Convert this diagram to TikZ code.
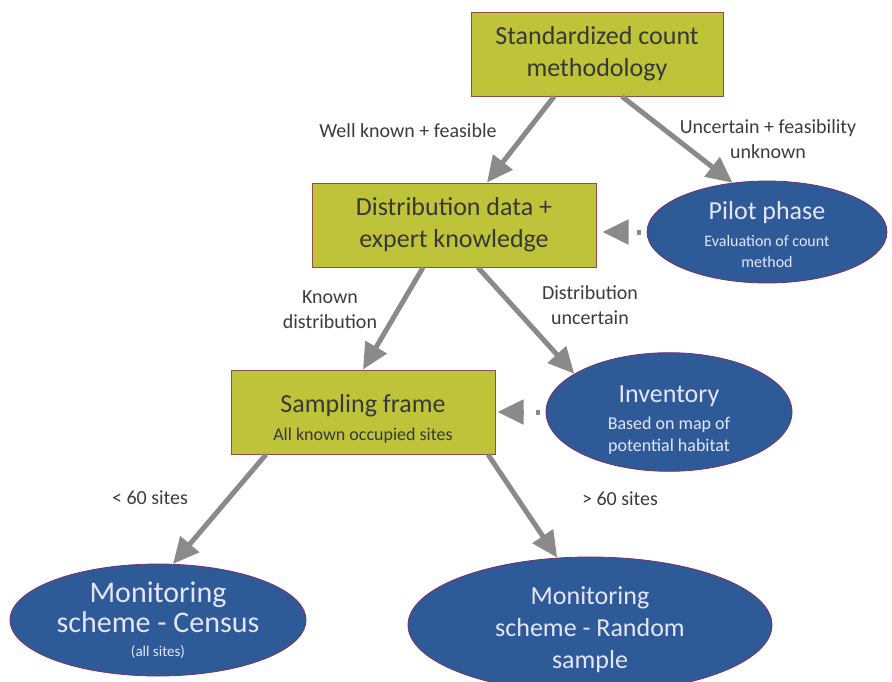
\documentclass[tikz,border=0pt]{standalone}
\usepackage{fontspec}
\setmainfont{Carlito}
\usepackage{xcolor}
\usetikzlibrary{shapes.geometric, arrows.meta, calc}

\definecolor{boxfill}{RGB}{191,195,58}
\definecolor{boxline}{RGB}{150,75,75}
\definecolor{ovalfill}{RGB}{47,90,152}
\definecolor{ovalline}{RGB}{120,50,110}
\definecolor{arrowgray}{RGB}{138,138,138}
\definecolor{labelgray}{RGB}{60,60,60}

\newcommand{\subtext}{\fontsize{18}{22}\selectfont}
\newcommand{\smalltext}{\fontsize{16}{20}\selectfont}
\newcommand{\tinytext}{\fontsize{15}{18}\selectfont}
\newcommand{\pushdown}[1]{\rule{0pt}{#1}}

\begin{document}
\begin{tikzpicture}[
    x=1pt, y=-1pt,
    every node/.style={font=\fontsize{20}{25}\selectfont, text=labelgray},
    choice/.style={rectangle, draw=boxline, line width=1pt, fill=boxfill, text=black!78, align=center, minimum height=84pt, inner sep=2pt, font=\fontsize{26}{32}\selectfont},
    outcome/.style={ellipse, draw=ovalline, line width=0.8pt, fill=ovalfill, text=white!90!blue, align=center, inner sep=0pt, font=\fontsize{26}{30}\selectfont},
    arrow/.style={draw=arrowgray, line width=5pt, -{Triangle[length=26pt,width=24pt]}},
    feedback/.style={arrow, dash pattern=on 4pt off 12pt, dash phase=10pt},
    edgelabel/.style={align=center}
]
\useasboundingbox (0,0) rectangle (892,681);

% boxes
\node (std) [choice, minimum width=252pt] at (597,54) {Standardized count\\methodology};
\node (dist) [choice, minimum width=284pt] at (454,225) {Distribution data +\\expert knowledge};
\node (frame) [choice, minimum width=264pt] at (363,412) {\pushdown{32pt}Sampling frame\\[-4pt]\subtext All known occupied sites};

% ellipses
\node (pilot) [outcome, minimum width=240pt, minimum height=100pt] at (767,232) {\pushdown{24pt}Pilot phase\\[-3pt]\smalltext Evaluation of count\\[-9pt]\smalltext method};
\node (inv) [outcome, minimum width=246pt, minimum height=102pt] at (669,412) {\pushdown{32pt}Inventory\\[-3pt]\subtext Based on map of\\[-8pt]\subtext potential habitat};
\node (census) [outcome, minimum width=296pt, minimum height=112pt, font=\fontsize{30}{30}\selectfont] at (158,620) {Monitoring\\scheme - Census\\[-6pt]\tinytext (all sites)};
\node (random) [outcome, minimum width=364pt, minimum height=122pt, font=\fontsize{26}{32}\selectfont] at (590,625) {\pushdown{28pt}Monitoring\\scheme - Random\\sample};

% labels
\node (lwell) [edgelabel] at (408,131) {Well known + feasible};
\node (lunc) [edgelabel] at (768,139) {Uncertain + feasibility\\unknown};
\node (lknown) [edgelabel] at (330,310) {Known\\distribution};
\node (ldist) [edgelabel] at (590,305) {Distribution\\uncertain};
\node (lless) [edgelabel] at (150,498) {< 60 sites};
\node (lmore) [edgelabel] at (620,499) {> 60 sites};

% arrows
\draw [arrow] ([xshift=-43pt]std.south) -- ([xshift=33pt]dist.north);
\draw [arrow] ([xshift=25pt]std.south) -- (pilot.125);
\draw [arrow] ([xshift=-31pt]dist.south) -- (frame.north);
\draw [arrow] ([xshift=24pt]dist.south) -- (inv.158);
\draw [arrow] ([xshift=-97pt]frame.south) -- (census.75);
\draw [arrow] ([xshift=125pt]frame.south) -- (random.116);
\draw [feedback] (pilot.west) -- ($(dist.east |- pilot.west)+(6,0)$);
\draw [feedback] (inv.west) -- ($(frame.east |- inv.west)+(2,0)$);

\end{tikzpicture}
\end{document}
